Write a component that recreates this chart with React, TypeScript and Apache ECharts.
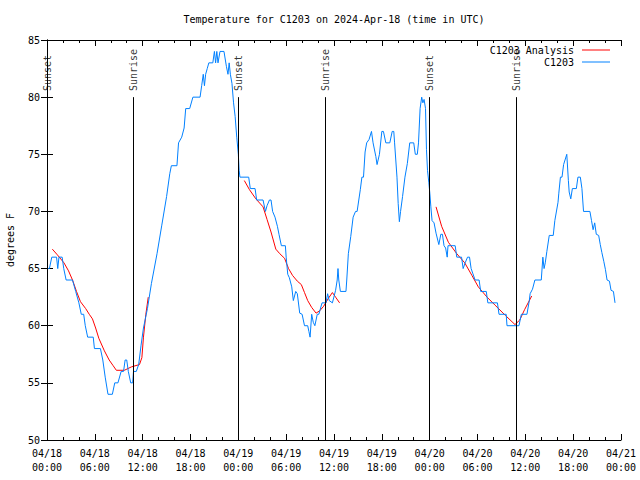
import React, { useEffect, useRef } from "react";
import * as echarts from "echarts";

// hours after 04/18 00:00 UTC, degrees F
const c1203Obs: [number, number][] = [
  [0, 65], [0.3, 65], [0.6, 66], [1.2, 66], [1.35, 65], [1.5, 66], [1.9, 66], [2.1, 65], [2.4, 64], [3.2, 64],
  [3.6, 63], [4.0, 62], [4.3, 61], [4.6, 61], [4.8, 60], [5.1, 59], [5.8, 59], [5.95, 58], [6.7, 58], [7.0, 57],
  [7.3, 55.5], [7.65, 54], [8.2, 54], [8.5, 55], [8.9, 55], [9.3, 56], [9.6, 56], [9.8, 57], [10.0, 57], [10.2, 56],
  [10.5, 55], [10.75, 55], [10.85, 56], [11.2, 56], [11.5, 56.6], [11.8, 58.3], [12.1, 59.8], [12.6, 61.5],
  [13.1, 63.7], [13.8, 66.3], [14.4, 68.8], [15.0, 71.3], [15.4, 73.3], [15.6, 74], [16.3, 74], [16.5, 76],
  [16.9, 76.5], [17.2, 77.3], [17.4, 79], [17.9, 79], [18.3, 80], [19.2, 80], [19.4, 81], [19.6, 82], [19.75, 81],
  [19.9, 82], [20.1, 82.5], [20.3, 83], [20.8, 83], [21.0, 84], [21.15, 83], [21.3, 84], [21.45, 83], [21.7, 84],
  [22.2, 84], [22.5, 82.7], [22.7, 82], [22.85, 83], [23.0, 82], [23.2, 81.2], [23.4, 79.5], [23.6, 78.3],
  [23.8, 76.5], [24.0, 75], [24.1, 73.6], [24.2, 73], [25.3, 73], [25.5, 72], [26.1, 72], [26.3, 71], [27.1, 71],
  [27.4, 70], [27.6, 70.5], [27.9, 71], [28.1, 71], [28.3, 70], [28.6, 69.5], [28.9, 68.7], [29.1, 68], [29.4, 67],
  [29.9, 67], [30.0, 66], [30.2, 64.5], [30.4, 64.2], [30.7, 63.4], [30.9, 62.2], [31.2, 63], [31.4, 62.8],
  [31.7, 61.1], [32.0, 61], [32.3, 60], [32.7, 60], [32.85, 59.5], [33.0, 59], [33.2, 61], [33.4, 60.3], [33.6, 60],
  [33.9, 61], [34.1, 61], [34.5, 62], [35.0, 62], [35.2, 62.8], [35.4, 62.2], [35.8, 62], [36.2, 63.1], [36.4, 64],
  [36.5, 65], [36.6, 64], [36.8, 63], [37.5, 63], [37.6, 64], [37.8, 66.3], [38.1, 67.8], [38.4, 69.5], [38.7, 70],
  [38.9, 70], [39.3, 71.9], [39.5, 73], [39.7, 73], [39.9, 75.2], [40.1, 76], [40.4, 76.3], [40.7, 77], [40.9, 76],
  [41.25, 74.8], [41.4, 74.1], [41.7, 75], [42.0, 77], [42.2, 77], [42.5, 76], [43.0, 76], [43.3, 77], [43.5, 77],
  [43.6, 76], [43.9, 73], [44.05, 70.7], [44.2, 69.1], [44.35, 70], [44.6, 71.3], [44.9, 73], [45.2, 74.2],
  [45.5, 76], [46.0, 76], [46.2, 75], [46.45, 75], [46.6, 76], [46.8, 79], [47.0, 80], [47.15, 79.5], [47.3, 79.8],
  [47.48, 79], [47.6, 75.4], [47.73, 73.6], [47.9, 72.5], [48.02, 71.6], [48.15, 70.4], [48.3, 69.2], [48.55, 69],
  [48.8, 68.1], [49.15, 67.1], [49.4, 68], [49.6, 68], [49.8, 67], [50.0, 66.8], [50.2, 66], [50.3, 67], [51.2, 67],
  [51.4, 66], [52.0, 66], [52.2, 65], [52.45, 65.5], [52.75, 66], [53.0, 66], [53.2, 65], [53.4, 64.6], [53.7, 64],
  [54.2, 64], [54.4, 63], [55.1, 63], [55.3, 62], [56.5, 62], [56.7, 61], [57.6, 61], [57.7, 60], [59.2, 60],
  [59.5, 61], [60.2, 61], [60.5, 62.2], [60.6, 62.8], [60.9, 63.2], [61.2, 64], [62.0, 64], [62.2, 66], [62.35, 65],
  [62.5, 65.5], [62.7, 66.5], [63.0, 67.9], [63.5, 67.9], [63.7, 69.2], [64.1, 70.8], [64.2, 71.6], [64.4, 73],
  [64.6, 73], [64.8, 74.1], [65.2, 75], [65.4, 72.7], [65.5, 71.7], [65.7, 71.1], [65.9, 72], [66.4, 72], [66.6, 73],
  [66.9, 73], [67.1, 72], [67.3, 70], [68.1, 70], [68.3, 69.2], [68.5, 68.4], [68.7, 69], [68.9, 68], [69.2, 67.9],
  [69.4, 67.1], [69.6, 66.4], [69.85, 65.6], [70.05, 64.9], [70.25, 64], [70.55, 63.9], [70.75, 63.1], [71.05, 63],
  [71.25, 62],
];

const analysisNight1: [number, number][] = [
  [0.67, 66.7], [1.3, 66.2], [2.13, 65.5], [2.7, 64.8], [3.2, 64.0], [3.7, 63.0], [4.2, 62.1], [4.85, 61.5],
  [5.3, 61.0], [5.7, 60.6], [6.1, 59.8], [6.5, 58.9], [7.2, 57.8], [7.8, 57.0], [8.3, 56.5], [8.7, 56.1],
  [9.7, 56.1], [10.6, 56.4], [11.6, 56.6], [11.9, 57.2], [12.1, 59], [12.4, 61], [12.7, 62.5],
];
const analysisNight2: [number, number][] = [
  [24.75, 72.7], [25.4, 71.9], [26.2, 71.1], [27.1, 70.4], [27.6, 69.3], [28.1, 68.2], [28.7, 66.7], [29.2, 66.3],
  [29.8, 65.9], [30.3, 65.0], [30.8, 64.4], [31.4, 63.9], [31.9, 63.6], [32.3, 62.9], [32.7, 62.2], [33.2, 61.6],
  [33.75, 61.1], [34.2, 61.3], [34.7, 61.7], [35.3, 62.4], [35.8, 62.9], [36.2, 62.5], [36.7, 62.0],
];
const analysisNight3: [number, number][] = [
  [48.8, 70.4], [49.5, 68.7], [50.35, 67.3], [51.4, 66.3], [52.4, 65.5], [53.3, 64.4], [54.1, 63.4], [55.2, 62.5],
  [56.2, 61.8], [57.5, 60.9], [58.7, 60.1], [59.3, 60.5], [59.9, 61.4], [60.8, 62.6],
];

const sunTimes = [0, 10.83, 23.98, 34.9, 47.95, 58.85];
const sunLabels = ["Sunset", "Sunrise", "Sunset", "Sunrise", "Sunset", "Sunrise"];
const sunLineTop = 80;

const xTickDates = ["04/18", "04/18", "04/18", "04/18", "04/19", "04/19", "04/19", "04/19", "04/20", "04/20", "04/20", "04/20", "04/21"];
const xTickTimes = ["00:00", "06:00", "12:00", "18:00", "00:00", "06:00", "12:00", "18:00", "00:00", "06:00", "12:00", "18:00", "00:00"];

const FONT = "'DejaVu Sans Mono', monospace";
const LEGEND_ICON = "path://M0 0H28V1H0Z";

export default function App() {
  const ref = useRef<HTMLDivElement>(null);
  useEffect(() => {
    if (!ref.current) return;
    const chart = echarts.init(ref.current, undefined, { renderer: "svg" });
    const analysisData: any[] = [...analysisNight1, null, ...analysisNight2, null, ...analysisNight3].map((p) =>
      p === null ? [null, null] : p
    );
    const xAxisBase = {
      type: "value" as const,
      min: 0,
      max: 72,
      interval: 6,
      axisLine: { lineStyle: { color: "#000", width: 1 } },
      axisTick: { inside: true, length: 6, lineStyle: { color: "#000" } },
      minorTick: { show: true, splitNumber: 3, length: 3, lineStyle: { color: "#000" } },
      splitLine: { show: false },
    };
    const yAxisBase = {
      type: "value" as const,
      min: 50,
      max: 85,
      interval: 5,
      axisLine: { show: true, lineStyle: { color: "#000", width: 1 } },
      axisTick: { show: true, inside: true, length: 6, lineStyle: { color: "#000" } },
      splitLine: { show: false },
    };
    const legendBase = {
      right: 30,
      align: "right",
      itemWidth: 28,
      itemHeight: 10,
      padding: 0,
      icon: LEGEND_ICON,
      textStyle: { fontFamily: FONT, fontSize: 10, color: "#000", padding: [0, 3, 0, 0] },
    };
    chart.setOption({
      animation: false,
      backgroundColor: "#fff",
      title: {
        text: "Temperature for C1203 on 2024-Apr-18 (time in UTC)",
        left: 334,
        top: 14,
        padding: 0,
        textAlign: "center",
        textStyle: { fontFamily: FONT, fontSize: 10, fontWeight: "normal", color: "#000" },
      },
      legend: [
        { ...legendBase, data: ["C1203 Analysis"], top: 45 },
        { ...legendBase, data: ["C1203"], top: 57 },
      ],
      grid: { left: 47, right: 19, top: 40, bottom: 40, containLabel: false, outerBoundsMode: "none" },
      xAxis: [
        {
          ...xAxisBase,
          position: "bottom",
          axisLabel: {
            fontFamily: FONT,
            fontSize: 10,
            color: "#000",
            margin: 6,
            lineHeight: 14,
            formatter: (v: number) => {
              const i = Math.round(v / 6);
              return `${xTickDates[i]}\n${xTickTimes[i]}`;
            },
          },
        },
        { ...xAxisBase, position: "top", axisLabel: { show: false } },
      ],
      yAxis: [
        {
          ...yAxisBase,
          position: "left",
          name: "degrees F",
          nameLocation: "middle",
          nameGap: 32,
          nameTextStyle: { fontFamily: FONT, fontSize: 10, color: "#000" },
          axisLabel: { fontFamily: FONT, fontSize: 10, color: "#000", margin: 7 },
        },
        { ...yAxisBase, position: "right", axisLabel: { show: false } },
      ],
      series: [
        {
          name: "C1203 Analysis",
          type: "line",
          data: analysisData,
          symbol: "none",
          connectNulls: false,
          lineStyle: { color: "#ff0000", width: 1 },
          itemStyle: { color: "#ff0000" },
          z: 2,
        },
        {
          name: "C1203",
          type: "line",
          data: c1203Obs,
          symbol: "none",
          lineStyle: { color: "#0080ff", width: 1 },
          itemStyle: { color: "#0080ff" },
          z: 3,
        },
        {
          name: "sun",
          type: "scatter",
          data: sunTimes.map((t, i) => [t, sunLineTop, sunLabels[i]]),
          symbolSize: 0.1,
          itemStyle: { color: "rgba(0,0,0,0)" },
          silent: true,
          z: 4,
          label: {
            show: true,
            formatter: (p: any) => p.data[2],
            position: "top",
            distance: 6,
            rotate: 90,
            align: "left",
            verticalAlign: "middle",
            fontFamily: FONT,
            fontSize: 10,
            color: "#000",
          },
          markLine: {
            silent: true,
            symbol: ["none", "none"],
            label: { show: false },
            lineStyle: { color: "#000", width: 1, type: "solid" },
            emphasis: { disabled: true },
            data: sunTimes.map((t) => [{ coord: [t, 50] }, { coord: [t, sunLineTop] }]),
          },
        },
      ],
    });
    return () => chart.dispose();
  }, []);
  return <div ref={ref} style={{ position: "fixed", left: 0, top: 0, width: 640, height: 480 }} />;
}
